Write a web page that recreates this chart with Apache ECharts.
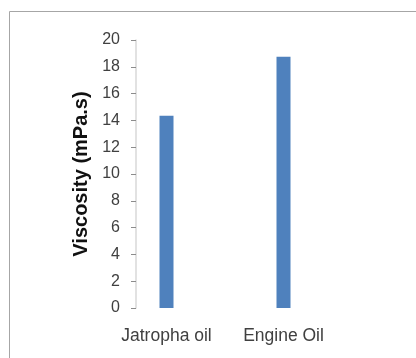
<!DOCTYPE html>
<html><head><meta charset="utf-8">
<script src="https://cdn.jsdelivr.net/npm/echarts@6/dist/echarts.min.js"></script>
<style>html,body{margin:0;padding:0;background:#fff}#c{width:416px;height:358px}</style>
</head><body><div id="c"></div>
<script>
const categories = ['Jatropha oil', 'Engine Oil'];
const viscosity = [14.35, 18.75];
const yTicks = { min: 0, max: 20, interval: 2 };

const chart = echarts.init(document.getElementById('c'));
chart.setOption({
  animation: false,
  graphic: [{ type: 'rect', shape: { x: 9.5, y: 11.5, width: 600, height: 600 }, style: { fill: 'none', stroke: '#a6a6a6', lineWidth: 1 } }],
  grid: { left: 108, right: 74, top: 40, bottom: 50 },
  xAxis: {
    type: 'category', data: categories,
    axisLine: { show: false }, axisTick: { show: false },
    axisLabel: { interval: 0, hideOverlap: false, color: '#404040', fontSize: 17.5, fontFamily: 'Liberation Sans', margin: 19 }
  },
  yAxis: {
    type: 'value', min: yTicks.min, max: yTicks.max, interval: yTicks.interval,
    offset: -28,
    name: 'Viscosity (mPa.s)', nameLocation: 'middle', nameGap: 44,
    nameTextStyle: { fontSize: 20, fontWeight: 'bold', color: '#111', fontFamily: 'Liberation Sans' },
    axisLine: { show: true, lineStyle: { color: '#d9d9d9', width: 1.5 } },
    axisTick: { show: true, length: 5, lineStyle: { color: '#8c8c8c' } },
    axisLabel: { color: '#404040', fontSize: 16, fontFamily: 'Liberation Sans', margin: 16 },
    splitLine: { show: false }
  },
  series: [{ type: 'bar', data: viscosity, barWidth: 14, itemStyle: { color: '#4f81bd' } }]
});
</script></body></html>
